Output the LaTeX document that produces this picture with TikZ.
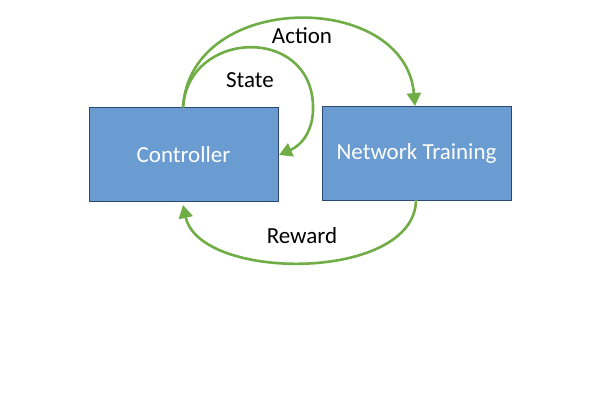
\documentclass[tikz,border=0pt]{standalone}
\usepackage{fontspec}
\setmainfont{Carlito}
\usetikzlibrary{arrows.meta}
\definecolor{boxblue}{HTML}{6A9BD1}
\definecolor{boxedge}{HTML}{2A4A73}
\definecolor{arrgreen}{HTML}{70AD47}
\tikzset{
  blockbox/.style={draw=boxedge, line width=0.9pt, fill=boxblue, text=white, minimum width=189pt, minimum height=94pt, inner sep=0pt, font=\fontsize{23}{26}\selectfont},
  flowarrow/.style={draw=arrgreen, line width=2.6pt, -{Triangle[length=13pt,width=14pt]}},
  flowlabel/.style={font=\fontsize{23}{26}\selectfont, text=black, inner sep=0pt}
}
\begin{document}
\begin{tikzpicture}[x=1pt,y=-1pt]
\useasboundingbox (0,0) rectangle (600,400);
\node[blockbox] (ctrl) at (183.5,154.5) {Controller};
\node[blockbox] (net) at (416.5,153.5) {Network Training};
\coordinate (ctrltop) at (183,107.5);
\coordinate (nettop) at (415,106);
\coordinate (statein) at (279,155);
\coordinate (netbot) at (416,200);
\coordinate (ctrlbot) at (183,205);
\coordinate (stateturn) at (313,105);
\draw[flowarrow] (ctrltop) .. controls (190,-10) and (405,-10) .. (nettop);
\draw[flowarrow] (ctrltop) .. controls (188,30) and (310,25) .. (stateturn) .. controls (314,130) and (302,145) .. (statein);
\draw[flowarrow] (netbot) .. controls (415,282) and (200,282) .. (ctrlbot);
\node[flowlabel] (action) at (302,36) {Action};
\node[flowlabel] (state) at (250,80) {State};
\node[flowlabel] (reward) at (302,236) {Reward};
\end{tikzpicture}
\end{document}
